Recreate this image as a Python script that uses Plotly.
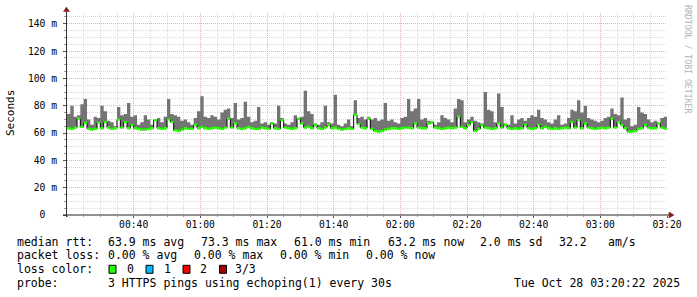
import datetime as dt
import plotly.graph_objects as go

# ---------------- data ----------------
START = dt.datetime(2025, 10, 28, 0, 20)
STEP_MIN = 1

# max of the 3 pings per minute (ms)
rtt_max = [
    74, 80, 72, 73, 81, 85, 70, 66, 72, 71,
    80, 76, 69, 68, 65, 79, 73, 74, 82, 72,
    73, 66, 68, 73, 70, 66, 69, 71, 68, 72,
    85, 74, 73, 72, 69, 70, 68, 66, 71, 76,
    87, 72, 71, 73, 72, 70, 75, 77, 78, 71,
    82, 70, 71, 83, 72, 68, 69, 79, 67, 68,
    66, 68, 67, 80, 71, 67, 66, 68, 73, 71,
    72, 91, 76, 74, 67, 66, 68, 80, 68, 67,
    88, 66, 65, 67, 70, 65, 84, 71, 72, 70,
    72, 70, 71, 69, 70, 82, 69, 70, 68, 67,
    71, 72, 85, 76, 78, 85, 70, 71, 69, 67,
    66, 68, 73, 71, 70, 68, 78, 85, 84, 68,
    70, 72, 69, 68, 67, 90, 77, 76, 68, 89,
    79, 67, 66, 73, 67, 70, 71, 69, 71, 73,
    72, 77, 71, 70, 68, 67, 70, 73, 66, 67,
    71, 77, 76, 84, 75, 80, 71, 70, 69, 68,
    69, 71, 72, 78, 74, 73, 86, 70, 71, 65,
    66, 79, 75, 74, 70, 68, 69, 68, 71, 72,
]

# median rtt per minute (ms)
rtt_median = [
    63.5, 63.0, 64.0, 70.5, 64.5, 67.5, 63.0, 62.5, 63.0, 67.5,
    63.5, 68.0, 64.0, 63.0, 63.5, 70.0, 64.0, 68.0, 63.5, 66.0,
    63.5, 63.0, 62.5, 62.5, 63.0, 63.5, 69.5, 63.5, 63.0, 63.5,
    70.0, 68.0, 62.0, 61.5, 62.5, 63.5, 63.0, 63.0, 66.0, 63.5,
    64.5, 63.5, 63.0, 63.5, 64.0, 63.5, 63.0, 64.0, 70.5, 64.0,
    67.0, 63.5, 63.0, 63.5, 64.5, 63.5, 63.0, 63.0, 64.0, 63.5,
    63.0, 67.0, 63.5, 63.0, 69.5, 64.0, 63.5, 63.0, 63.5, 70.5,
    67.0, 64.0, 64.5, 63.5, 66.0, 63.5, 63.0, 64.0, 66.0, 63.5,
    64.0, 63.0, 62.5, 63.0, 63.5, 63.0, 73.3, 66.5, 64.0, 63.5,
    70.5, 63.0, 61.5, 61.0, 61.5, 62.5, 63.0, 63.5, 63.5, 63.0,
    63.5, 64.0, 64.0, 63.5, 67.0, 64.0, 63.5, 63.5, 67.0, 68.0,
    64.0, 63.5, 63.0, 63.5, 64.0, 63.5, 64.0, 72.0, 64.5, 63.5,
    66.0, 68.0, 61.5, 63.0, 66.0, 64.0, 63.5, 63.0, 63.5, 67.0,
    64.0, 66.0, 63.5, 63.0, 63.5, 63.0, 63.5, 66.0, 63.5, 63.0,
    63.5, 66.0, 63.5, 64.5, 63.5, 63.0, 63.5, 63.0, 63.5, 64.0,
    63.5, 68.0, 64.0, 69.5, 63.5, 67.0, 64.0, 63.5, 63.0, 63.5,
    64.0, 63.5, 64.0, 70.5, 64.0, 68.0, 66.0, 63.5, 61.0, 61.0,
    61.5, 63.0, 63.5, 66.0, 64.0, 63.5, 63.5, 67.0, 64.0, 63.2,
]

y_tick_vals = [0, 20, 40, 60, 80, 100, 120, 140]
y_tick_text = ["0\u00a0\u00a0", "20 m", "40 m", "60 m", "80 m", "100 m", "120 m", "140 m"]
x_tick_labels = ["00:40", "01:00", "01:20", "01:40", "02:00", "02:20", "02:40", "03:00", "03:20"]

rtt_stats = ["63.9 ms avg", "73.3 ms max", "61.0 ms min", "63.2 ms now", "2.0 ms sd", "32.2", "am/s"]
loss_stats = ["0.00 % avg", "0.00 % max", "0.00 % min", "0.00 % now"]
loss_labels = ["0", "1", "2", "3/3"]
loss_colors = ["#26ff00", "#00b8ff", "#ff0000", "#a10000"]
probe_text = "3 HTTPS pings using echoping(1) every 30s"
date_text = "Tue Oct 28 03:20:22 2025"

# ---------------- geometry ----------------
W, H = 697, 297
PL, PR, PT, PB = 67, 30, 13, 82
PW = W - PL - PR
PH = H - PT - PB
Y0PX = H - PB  # pixel y of the x axis
Y_TOP = 147.9


def px(x):
    return (x - PL) / PW


def py(y):
    return (Y0PX - y) / PH


n = len(rtt_max)
times = [START + dt.timedelta(minutes=STEP_MIN * i) for i in range(n + 1)]
END = times[-1]
med_ext = rtt_median + [rtt_median[-1]]
max_ext = rtt_max + [rtt_max[-1]]
HALF = 0.85
green_lo = [m - HALF for m in med_ext]
green_hi = [m + HALF for m in med_ext]

MONO = "DejaVu Sans Mono"
fig = go.Figure()

# smoke (gray) between median and max
fig.add_trace(go.Scatter(x=times, y=med_ext, mode="lines", line=dict(width=0, shape="hv"),
                         hoverinfo="skip", showlegend=False))
fig.add_trace(go.Scatter(x=times, y=max_ext, mode="lines", line=dict(width=0, shape="hv"),
                         fill="tonexty", fillcolor="#747474", hoverinfo="skip", showlegend=False))
# black median line
fig.add_trace(go.Scatter(x=times, y=med_ext, mode="lines", line=dict(width=1, shape="hv", color="#000000"),
                         hoverinfo="skip", showlegend=False))
# green loss-colored band
fig.add_trace(go.Scatter(x=times, y=green_lo, mode="lines", line=dict(width=0, shape="hv"),
                         hoverinfo="skip", showlegend=False))
fig.add_trace(go.Scatter(x=times, y=green_hi, mode="lines", line=dict(width=0, shape="hv"),
                         fill="tonexty", fillcolor=loss_colors[0], hoverinfo="skip", showlegend=False))

x_tick_vals = [dt.datetime(2025, 10, 28, int(t[:2]), int(t[3:])) for t in x_tick_labels]

MAJOR = "rgba(236,165,165,0.8)"
MINOR = "rgba(205,205,205,0.75)"
DASH = "1px,1px"

fig.update_layout(
    width=W, height=H,
    margin=dict(l=PL, r=PR, t=PT, b=PB, pad=0),
    paper_bgcolor="#ffffff", plot_bgcolor="#ffffff",
    showlegend=False,
    font=dict(family=MONO, color="#000000"),
    xaxis=dict(
        type="date", range=[START, END],
        tickvals=x_tick_vals, ticktext=x_tick_labels,
        showgrid=True, gridcolor=MAJOR, griddash=DASH, gridwidth=1,
        ticks="outside", ticklen=2, tickcolor="#555555", tickwidth=1,
        minor=dict(dtick=300000, tick0=START, showgrid=True, gridcolor=MINOR, griddash=DASH,
                   ticks="outside", ticklen=1, tickcolor="#999999"),
        tickfont=dict(family=MONO, size=9.7, color="#000000"),
        ticklabelstandoff=-2,
        showline=False, zeroline=False, fixedrange=True,
    ),
    yaxis=dict(
        range=[0, Y_TOP],
        tickvals=y_tick_vals, ticktext=y_tick_text,
        showgrid=True, gridcolor=MAJOR, griddash=DASH, gridwidth=1,
        ticks="outside", ticklen=3, tickcolor="#555555", tickwidth=1,
        minor=dict(dtick=5, tick0=0, showgrid=True, gridcolor=MINOR, griddash=DASH,
                   ticks="outside", ticklen=2, tickcolor="#999999"),
        tickfont=dict(family=MONO, size=9.7, color="#000000"),
        ticklabelstandoff=4,
        showline=False, zeroline=False, fixedrange=True,
    ),
)

shapes = []
# axes
shapes.append(dict(type="line", xref="paper", yref="paper", x0=px(66.5), x1=px(66.5), y0=py(Y0PX + 2), y1=py(10),
                   line=dict(color="#333333", width=1)))
shapes.append(dict(type="line", xref="paper", yref="paper", x0=px(63), x1=px(670), y0=py(Y0PX), y1=py(Y0PX),
                   line=dict(color="#222222", width=1)))
# arrows
ARROW = "#8b1a1a"
shapes.append(dict(type="path", xref="paper", yref="paper",
                   path=f"M {px(63.5)} {py(11.5)} L {px(69.5)} {py(11.5)} L {px(66.5)} {py(7)} Z",
                   fillcolor=ARROW, line=dict(color=ARROW, width=0.5)))
shapes.append(dict(type="path", xref="paper", yref="paper",
                   path=f"M {px(669)} {py(Y0PX-3)} L {px(669)} {py(Y0PX+3)} L {px(674)} {py(Y0PX)} Z",
                   fillcolor=ARROW, line=dict(color=ARROW, width=0.5)))

annotations = []


def text(x, y, s, size=11.5, anchor="left", color="#000000", family=MONO, angle=0):
    annotations.append(dict(xref="paper", yref="paper", x=px(x), y=py(y), text=s, showarrow=False,
                            xanchor=anchor, yanchor="middle", textangle=angle, borderpad=0,
                            font=dict(family=family, size=size, color=color)))


# y title and watermark
text(10, 113, "Seconds", size=11, anchor="center", angle=-90)
text(688, 59, "RRDTOOL / TOBI OETIKER", size=8.2, anchor="center", color="#b4b4b4", angle=90)

# legend lines
L1, L2, L3, L4 = 241.7, 255.2, 269.3, 283.3
text(16, L1, "median rtt:")
for xpos, s in zip([107.3, 200, 292.7, 386.7, 479.3, 558.3, 606.7], rtt_stats):
    text(xpos, L1, s)
text(16, L2, "packet loss:")
for xpos, s in zip([107, 193.3, 279.3, 365], loss_stats):
    text(xpos, L2, s)
text(16, L3, "loss color:")
for sx, lx, lab, col in zip([109, 146, 183, 219.5], [126, 162.7, 199.3, 234.3], loss_labels, loss_colors):
    shapes.append(dict(type="rect", xref="paper", yref="paper", x0=px(sx), x1=px(sx + 7),
                       y0=py(L3 + 4), y1=py(L3 - 4), fillcolor=col, line=dict(color="#000000", width=1)))
    text(lx, L3, lab)
text(16, L4, "probe:")
text(107, L4, probe_text)
text(680.5, L4, date_text, anchor="right")

fig.update_layout(shapes=shapes, annotations=annotations)
fig.write_html("out.html")
